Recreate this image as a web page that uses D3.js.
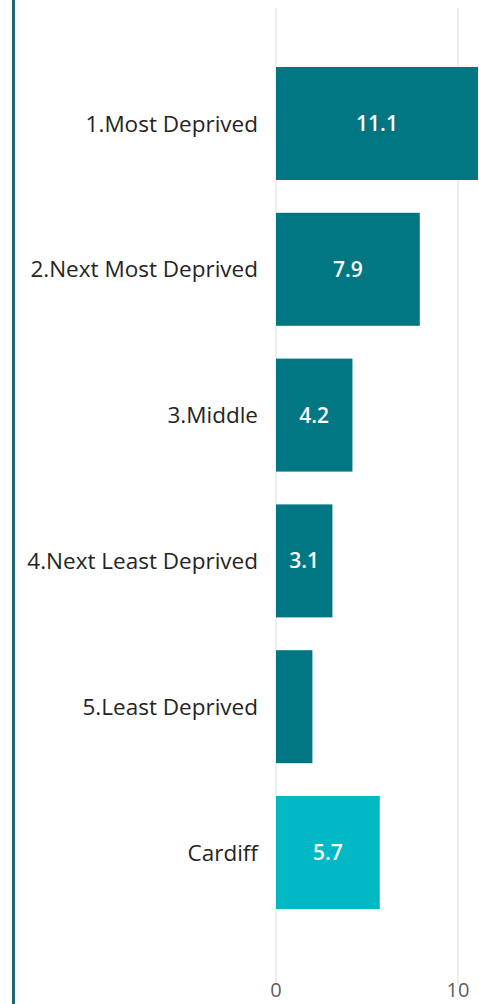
<!DOCTYPE html>
<html>
<head>
<meta charset="utf-8">
<script src="https://cdn.jsdelivr.net/npm/d3@7"></script>
<style>
  html, body { margin: 0; padding: 0; background: #fff; }
  svg { display: block; font-family: "Open Sans", "Noto Sans", sans-serif; }
</style>
</head>
<body>
<div id="chart"></div>
<script>
// Chart data
const categories = ["1.Most Deprived", "2.Next Most Deprived", "3.Middle", "4.Next Least Deprived", "5.Least Deprived", "Cardiff"];
const values = [11.1, 7.9, 4.2, 3.1, 2.0, 5.7];
const tickValues = [0, 10];

const width = 479;
const height = 1004;

const svg = d3.select("#chart")
    .append("svg")
    .attr("width", width)
    .attr("height", height);

// Left frame line
svg.append("rect")
    .attr("x", 12)
    .attr("y", 0)
    .attr("width", 3)
    .attr("height", height)
    .attr("fill", "#1d6670");

const x = d3.scaleLinear().domain([0, 10]).range([276, 458]);
const y = d3.scaleBand().domain(categories).range([50.6, 925.4]).paddingInner(0.225).paddingOuter(0.1125);

// Gridlines
svg.append("g")
    .selectAll("line")
    .data(tickValues)
    .enter()
    .append("line")
    .attr("x1", d => x(d))
    .attr("x2", d => x(d))
    .attr("y1", 8)
    .attr("y2", 985)
    .attr("stroke", "#e9e9e9")
    .attr("stroke-width", 1.5);

// Tick labels
svg.append("g")
    .selectAll("text")
    .data(tickValues)
    .enter()
    .append("text")
    .attr("x", d => x(d))
    .attr("y", 997)
    .attr("text-anchor", "middle")
    .attr("fill", "#605e5c")
    .style("font-size", "20px")
    .text(d => d);

// Bars
const rows = categories.map((c, i) => ({ name: c, value: values[i] }));

svg.append("g")
    .selectAll("rect")
    .data(rows)
    .enter()
    .append("rect")
    .attr("x", x(0))
    .attr("y", d => y(d.name))
    .attr("width", d => x(d.value) - x(0))
    .attr("height", y.bandwidth())
    .attr("fill", d => d.name === "Cardiff" ? "#01b8c4" : "#007782");

// Value labels inside bars (hidden when the bar is too narrow)
svg.append("g")
    .selectAll("text")
    .data(rows.filter(d => x(d.value) - x(0) > 45))
    .enter()
    .append("text")
    .attr("x", d => (x(0) + x(d.value)) / 2)
    .attr("y", d => y(d.name) + y.bandwidth() / 2)
    .attr("dy", "0.36em")
    .attr("text-anchor", "middle")
    .attr("fill", "#ffffff")
    .style("font-size", "21px")
    .style("font-weight", "600")
    .text(d => d.value.toFixed(1));

// Category labels
svg.append("g")
    .selectAll("text")
    .data(categories)
    .enter()
    .append("text")
    .attr("x", 258)
    .attr("y", d => y(d) + y.bandwidth() / 2)
    .attr("dy", "0.36em")
    .attr("text-anchor", "end")
    .attr("fill", "#252423")
    .style("font-size", "22.5px")
    .text(d => d);
</script>
</body>
</html>
